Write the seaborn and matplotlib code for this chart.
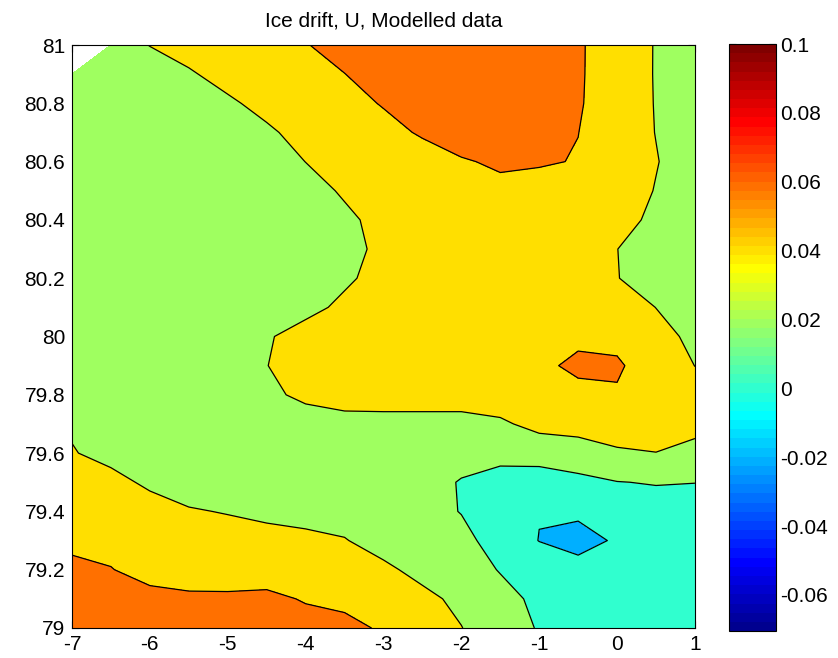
# Deriva de hielo, componente U - datos modelados (contourf estilo MATLAB)
import numpy as np
import matplotlib
matplotlib.use('Agg')
import matplotlib.pyplot as plt
from matplotlib.colors import ListedColormap, Normalize
from matplotlib.cm import ScalarMappable
from matplotlib.ticker import FuncFormatter
import seaborn as sns

# Datos
lon = [-7.0, -6.5, -6.0, -5.5, -5.0, -4.5, -4.0, -3.5, -3.0, -2.5, -2.0, -1.5, -1.0, -0.5, 0.0, 0.5, 1.0]
lat = [81.0, 80.9, 80.8, 80.7, 80.6, 80.5, 80.4, 80.3, 80.2, 80.1, 80.0,
       79.9, 79.8, 79.7, 79.6, 79.5, 79.4, 79.3, 79.2, 79.1, 79.0]

# U en cm/s, una fila por latitud (de 81 a 79)
u_cms = [
    [np.nan, 3.0, 4.05, 4.5, 5.0, 5.4, 5.9, 6.8, 7.4, 7.6, 7.6, 7.4, 7.0, 6.2, 5.1, 3.9, 3.0],
    [3.0, 3.0, 3.0, 3.86, 4.44, 4.95, 5.46, 5.97, 6.94, 7.5, 7.6, 7.5, 7.1, 6.2, 5.05, 3.9, 3.0],
    [3.0, 3.0, 3.0, 3.0, 3.8, 4.38, 4.94, 5.5, 6.1, 7.0, 7.5, 7.5, 7.0, 6.16, 5.05, 3.92, 3.0],
    [3.0, 3.0, 3.0, 3.0, 3.0, 3.8, 4.43, 4.98, 5.54, 6.16, 7.0, 7.2, 6.9, 6.02, 4.99, 3.96, 3.0],
    [3.0, 3.0, 3.0, 3.0, 3.0, 3.0, 4.02, 4.45, 4.91, 5.36, 5.82, 6.3, 6.2, 5.9, 4.88, 4.08, 3.1],
    [3.0, 3.0, 3.0, 3.0, 3.0, 3.0, 3.24, 4.24, 4.9, 5.3, 5.4, 5.5, 5.2, 5.2, 4.92, 3.92, 3.0],
    [3.0, 3.0, 3.0, 3.0, 3.0, 3.0, 3.0, 3.6, 4.6, 5.1, 5.3, 5.3, 5.2, 5.0, 4.62, 3.62, 3.0],
    [3.0, 3.0, 3.0, 3.0, 3.0, 3.0, 3.0, 3.42, 4.42, 4.9, 5.1, 5.2, 5.1, 4.9, 4.02, 3.02, 3.0],
    [3.0, 3.0, 3.0, 3.0, 3.0, 3.0, 3.0, 3.68, 4.68, 5.0, 5.1, 5.2, 5.1, 4.9, 4.06, 3.1, 3.0],
    [3.0, 3.0, 3.0, 3.0, 3.0, 3.0, 3.42, 4.42, 5.0, 5.1, 5.2, 5.3, 5.3, 5.3, 4.98, 3.98, 3.0],
    [3.0, 3.0, 3.0, 3.0, 3.0, 3.8, 4.8, 5.2, 5.3, 5.3, 5.3, 5.4, 5.5, 5.7, 5.6, 4.6, 3.6],
    [3.0, 3.0, 3.0, 3.0, 3.0, 3.96, 4.96, 5.2, 5.3, 5.3, 5.4, 5.5, 5.7, 6.3, 6.2, 5.2, 3.98],
    [3.0, 3.0, 3.0, 3.0, 3.0, 3.5, 4.5, 5.0, 5.1, 5.1, 5.1, 5.2, 5.3, 5.6, 5.85, 5.0, 4.6],
    [3.8, 3.4, 3.2, 3.1, 3.1, 3.2, 2.9, 3.2, 3.2, 3.2, 3.2, 3.66, 4.66, 4.5, 4.8, 4.6, 4.4],
    [4.1, 3.5, 3.3, 3.1, 3.0, 3.0, 2.9, 2.9, 2.9, 2.8, 2.6, 2.4, 2.6, 3.39, 3.8, 3.98, 3.6],
    [4.6, 4.5, 3.7, 3.15, 3.2, 3.1, 3.0, 2.9, 2.8, 2.6, 1.9, 1.5, 1.3, 1.4, 1.95, 2.1, 2.02],
    [5.1, 4.9, 4.7, 4.15, 3.9, 3.6, 3.4, 3.2, 3.0, 2.5, 1.95, 1.0, 0.08, 0.3, 0.5, 1.2, 1.4],
    [5.7, 5.5, 5.3, 5.0, 4.8, 4.6, 4.4, 4.1, 3.2, 2.9, 2.4, 1.4, -0.05, -0.6, 0.2, 0.8, 1.2],
    [6.3, 6.06, 5.4, 4.9, 4.8, 4.7, 4.6, 4.5, 4.4, 3.4, 2.9, 1.9, 1.4, 0.6, 0.4, 1.1, 1.2],
    [6.9, 6.8, 6.5, 6.4, 6.4, 6.6, 5.8, 5.2, 4.8, 4.52, 3.52, 2.6, 1.6, 1.3, 1.2, 1.2, 1.3],
    [7.3, 7.3, 7.2, 7.1, 7.1, 7.1, 7.0, 6.9, 5.6, 4.9, 4.05, 2.7, 1.9, 1.5, 1.3, 1.3, 1.4],
]

niveles = [-0.02, 0.0, 0.02, 0.04, 0.06, 0.08]
ticks_x = [-7, -6, -5, -4, -3, -2, -1, 0, 1]
ticks_y = [79, 79.2, 79.4, 79.6, 79.8, 80, 80.2, 80.4, 80.6, 80.8, 81]
ticks_cbar = [-0.06, -0.04, -0.02, 0.0, 0.02, 0.04, 0.06, 0.08, 0.1]
etiquetas_cbar = ['-0.06', '-0.04', '-0.02', '0', '0.02', '0.04', '0.06', '0.08', '0.1']
clim = (-0.0705, 0.1)


def jet_matlab(m=64):
    # Mapa jet de MATLAB con m colores
    n = int(np.ceil(m / 4))
    u = np.concatenate([np.arange(1, n + 1) / n, np.ones(n - 1), np.arange(n, 0, -1) / n])
    g = int(np.ceil(n / 2)) - int(m % 4 == 1) + np.arange(1, len(u) + 1)
    r = g + n
    b = g - n
    tabla = np.zeros((m, 3))
    for canal, idx in ((0, r), (1, g), (2, b)):
        ok = (idx >= 1) & (idx <= m)
        tabla[idx[ok] - 1, canal] = u[ok]
    return ListedColormap(tabla)


# Estilo
sns.set_style('ticks')
plt.rcParams['font.family'] = ['Liberation Sans', 'DejaVu Sans']
plt.rcParams['axes.unicode_minus'] = False
plt.rcParams['text.color'] = 'black'

cmap = jet_matlab(64)
norm = Normalize(vmin=clim[0], vmax=clim[1])
Z = np.ma.masked_invalid(np.array(u_cms, dtype=float) / 100.0)

fig = plt.figure(figsize=(8.38, 6.58), dpi=100)
ax = fig.add_axes([0.0859, 0.0456, 0.7434, 0.886])
cax = fig.add_axes([0.870, 0.041, 0.056, 0.892])

# Relleno: cada banda con el color de su nivel inferior (como MATLAB)
colores = [cmap(norm(v)) for v in niveles[:-1]]
ax.contourf(lon, lat, Z, levels=niveles, colors=colores)
ax.contour(lon, lat, Z, levels=niveles[:-1], colors='k', linewidths=0.9)

ax.set_xlim(-7, 1)
ax.set_ylim(79, 81)
ax.set_xticks(ticks_x)
ax.set_yticks(ticks_y)
fmt = FuncFormatter(lambda v, p: '%g' % round(v, 2))
ax.xaxis.set_major_formatter(fmt)
ax.yaxis.set_major_formatter(fmt)
ax.tick_params(direction='in', top=True, right=True, length=5, width=0.8,
               labelsize=15, pad=5, colors='black')
for s in ax.spines.values():
    s.set_linewidth(0.8)
    s.set_color('black')
ax.set_title('Ice drift, U, Modelled data', fontsize=15, pad=13, color='black')

# Barra de colores
cb = fig.colorbar(ScalarMappable(norm=norm, cmap=cmap), cax=cax)
cb.set_ticks(ticks_cbar)
cb.set_ticklabels(etiquetas_cbar)
cax.tick_params(direction='in', left=True, right=True, length=5, width=0.8,
                labelsize=15, pad=3, colors='black')
cb.outline.set_linewidth(0.8)
cb.outline.set_edgecolor('black')

plt.savefig('out.png', dpi=100)
plt.close()
